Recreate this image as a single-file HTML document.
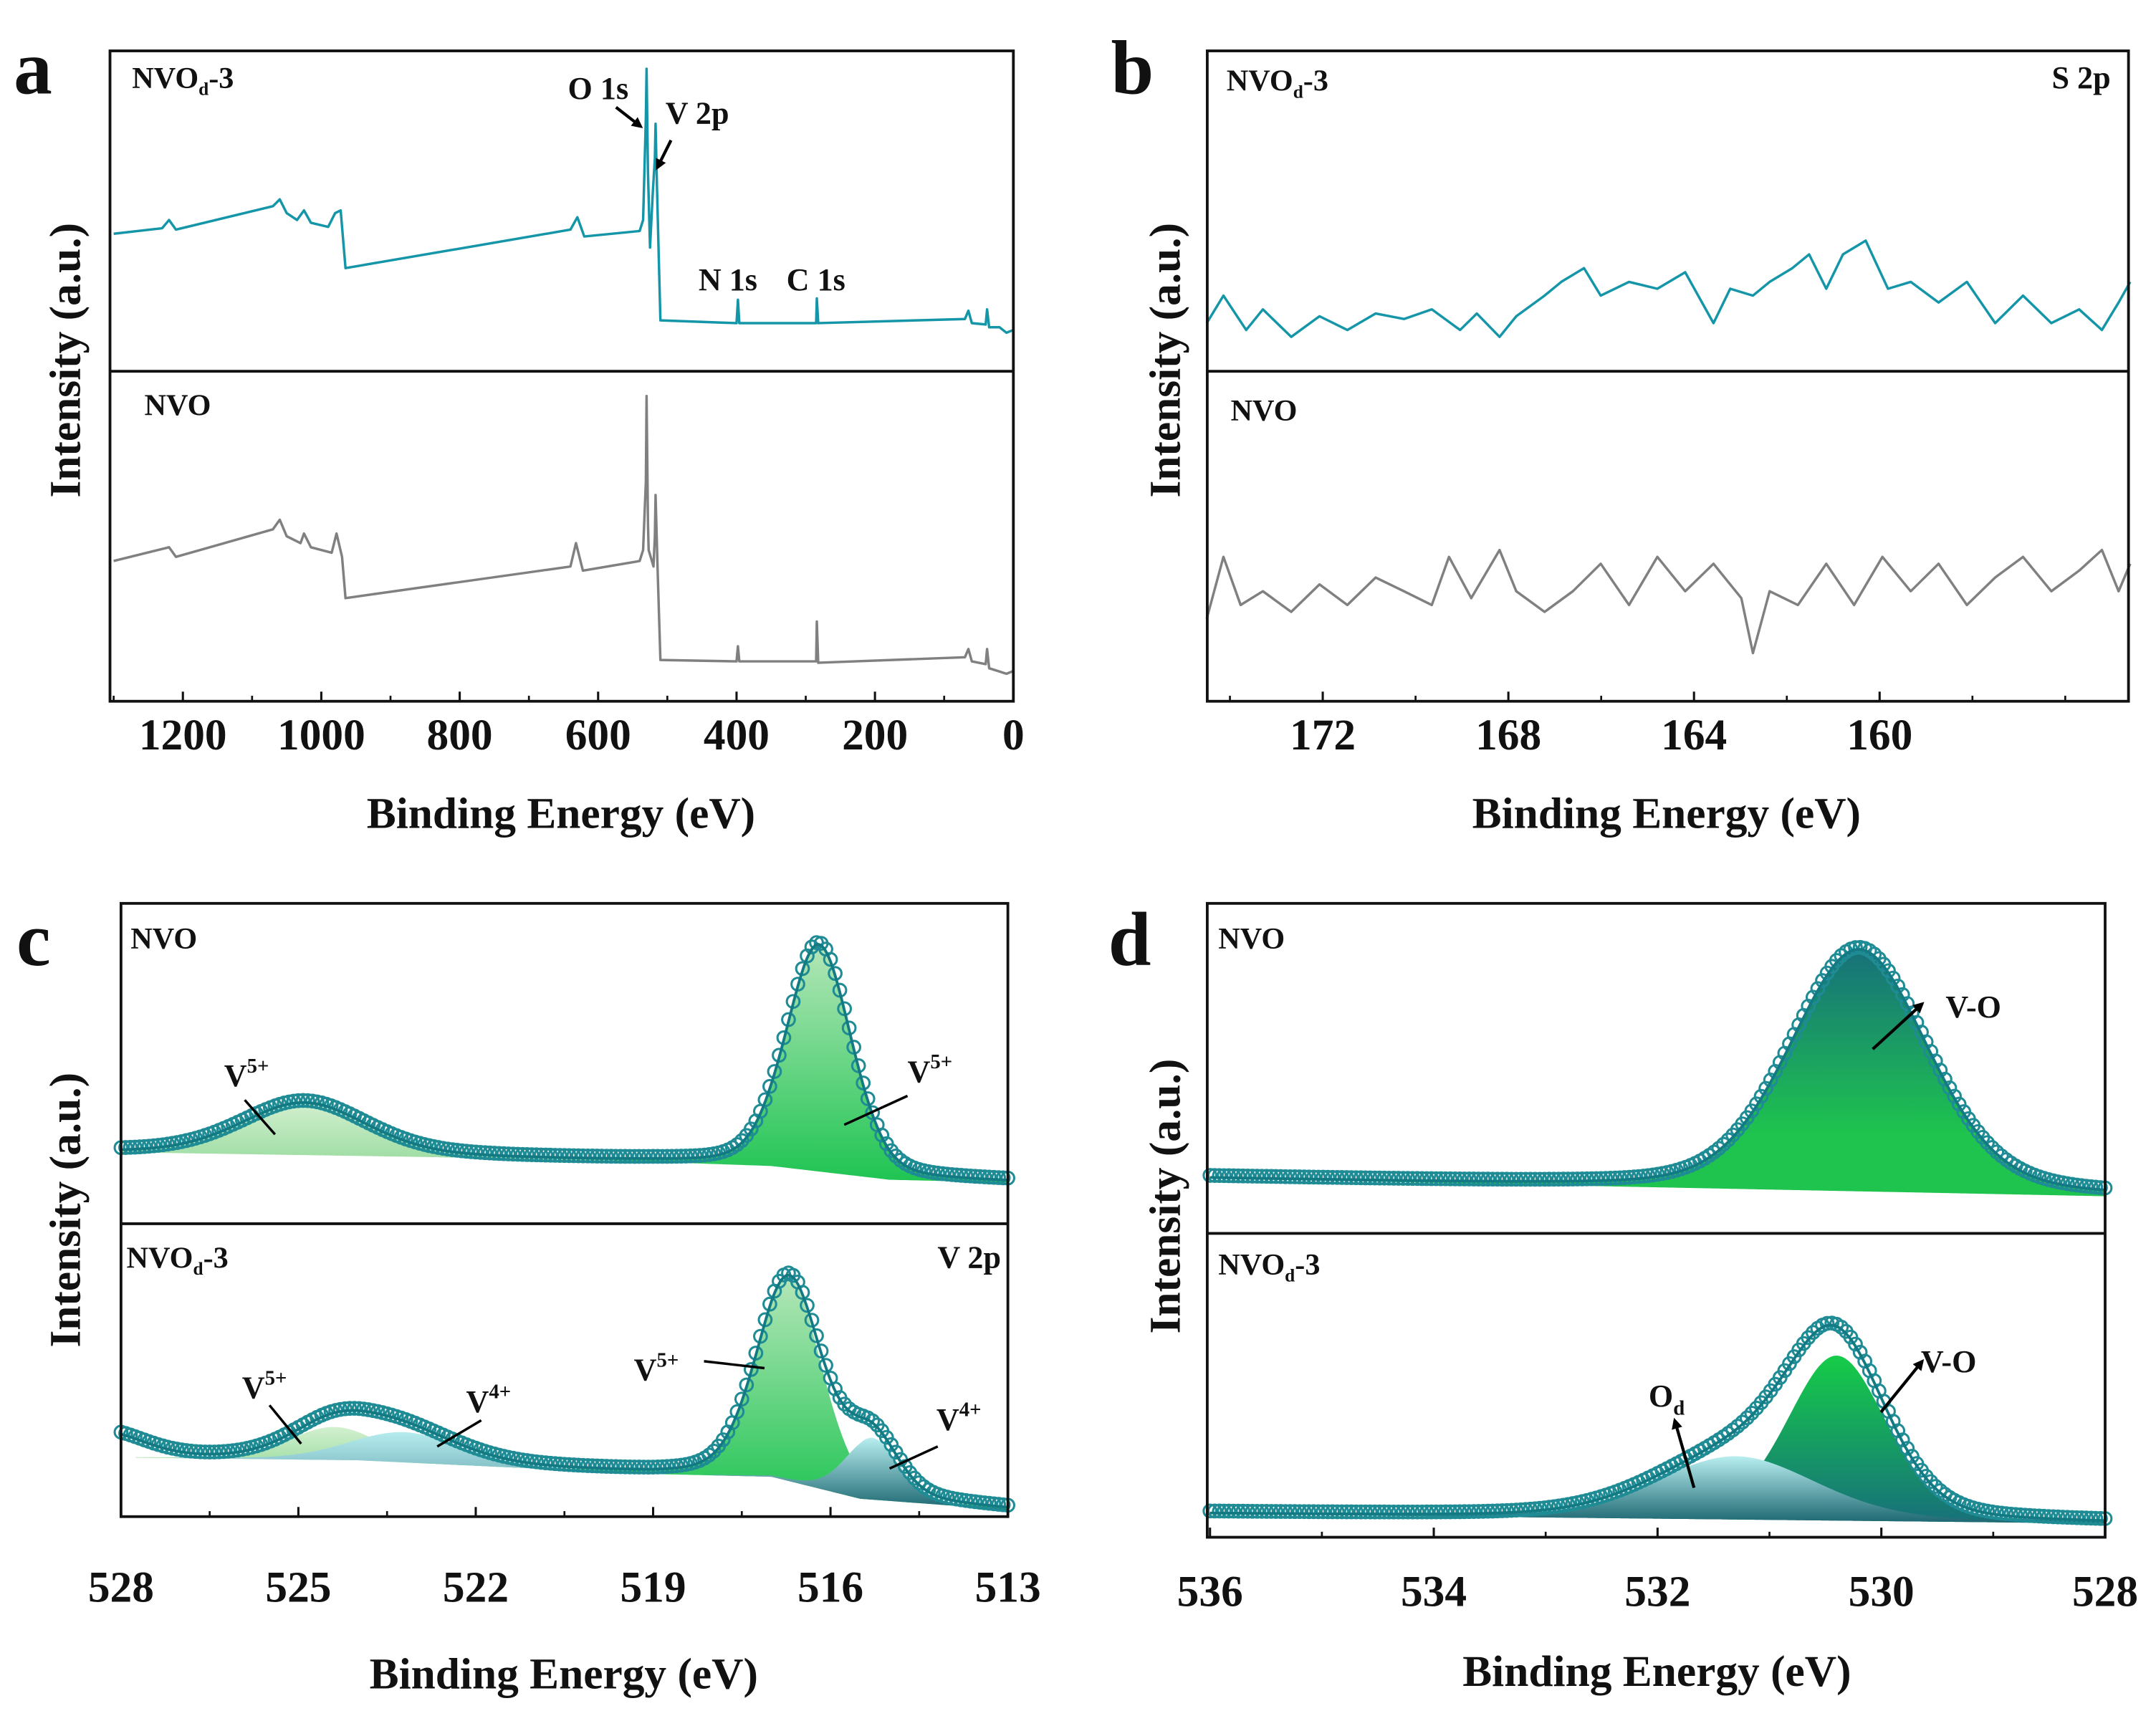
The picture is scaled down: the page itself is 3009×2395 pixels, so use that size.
<!DOCTYPE html>
<html><head><meta charset="utf-8"><style>
html,body{margin:0;padding:0;background:#fff;}
svg{display:block;}
text{font-family:"Liberation Serif",serif;font-weight:bold;fill:#111;}
</style></head><body>
<svg id="fig" width="3009" height="2395" viewBox="0 0 1568 1248" preserveAspectRatio="none" xmlns="http://www.w3.org/2000/svg">
<defs>
<linearGradient id="gGreen" x1="0" y1="0" x2="0" y2="1"><stop offset="0" stop-color="#b4e6b8"/><stop offset="1" stop-color="#1ec452"/></linearGradient>
<linearGradient id="gGreenL" x1="0" y1="0" x2="0" y2="1"><stop offset="0" stop-color="#d2f0cf"/><stop offset="1" stop-color="#9ddca2"/></linearGradient>
<linearGradient id="gCyan" x1="0" y1="0" x2="0" y2="1"><stop offset="0" stop-color="#b8eef0"/><stop offset="1" stop-color="#1b6670"/></linearGradient>
<linearGradient id="gCyanL" x1="0" y1="0" x2="0" y2="1"><stop offset="0" stop-color="#b6ecee"/><stop offset="1" stop-color="#80bcc4"/></linearGradient>
<linearGradient id="gTealGreen" x1="0" y1="0" x2="0" y2="1"><stop offset="0" stop-color="#17707a"/><stop offset="0.75" stop-color="#1ec44e"/><stop offset="1" stop-color="#1ec44e"/></linearGradient>
<linearGradient id="gGreenTeal" x1="0" y1="0" x2="0" y2="1"><stop offset="0" stop-color="#16cc48"/><stop offset="1" stop-color="#17707a"/></linearGradient>
<marker id="arr" markerWidth="8" markerHeight="8" refX="6" refY="4" orient="auto" markerUnits="userSpaceOnUse"><path d="M0,0 L8,4 L0,8 Z" fill="#000"/></marker>
</defs>
</svg>
<script>
// ---------------- DATA ----------------
// Panel a survey (binding energy eV, intensity counts)
const aTealE=[1300,1230,1220,1210,1070,1060,1050,1035,1025,1015,990,980,972,965,640,630,620,540,535,531,530,528,525,521,518,517,515,513,510,400,398,396,285,284,282,70,65,60,40,38,35,20,10,0];
const aTealI=[75,79,85,78,95,100,90,85,92,83,80,90,92,50,78,87,73,77,85,160,195,120,65,105,130,155,110,70,12,10,27,10,10,28,10,13,19,10,9,20,7,7,3,5];
const aGrayE=[1300,1220,1210,1070,1060,1050,1030,1025,1015,985,978,970,965,640,632,622,540,535,531,530,528,527,520,518,517,514,510,400,398,396,285,284,282,70,65,60,40,38,35,10,0];
const aGrayI=[92,102,95,115,122,110,105,112,102,98,112,95,65,88,105,85,92,100,150,212,120,100,88,110,140,85,20,19,30,19,19,48,18,22,28,19,17,28,14,10,12];
// Panel b S 2p
const bTealE=[174.5,174.14,173.65,173.29,172.68,172.07,171.47,170.86,170.25,169.65,169.04,168.68,168.19,167.83,167.22,166.86,166.37,166.01,165.40,164.79,164.19,163.58,163.22,162.73,162.37,161.88,161.52,161.15,160.79,160.30,159.82,159.33,158.73,158.12,157.51,156.91,156.30,155.70,155.21,154.85,154.6];
const bTealI=[65,85,60,75,55,70,60,72,68,75,60,72,55,70,85,95,105,85,95,90,102,65,90,85,95,105,115,90,115,125,90,95,80,95,65,85,65,75,60,80,95];
const bGrayE=[174.5,174.14,173.77,173.29,172.68,172.07,171.47,170.86,170.25,169.65,169.28,168.80,168.19,167.83,167.22,166.61,166.01,165.40,164.79,164.19,163.58,162.98,162.73,162.37,161.76,161.15,160.55,159.94,159.33,158.73,158.12,157.51,156.91,156.30,155.70,155.21,154.85,154.6];
const bGrayI=[50,95,60,70,55,75,60,80,70,60,95,65,100,70,55,70,90,60,95,70,90,65,25,70,60,90,60,95,70,90,60,80,95,70,85,100,70,90];
// Panel c V 2p fit components: [center eV, height, fwhm eV]
const cTopCenters=[516.2,524.9];
const cTopHeights=[165,38];
const cTopFwhm=[1.3,2.5];
const cTopBgE=[528,522,519,517,515,513];
const cTopBgI=[22,18,15,12,2,0];
const cBotCenters=[516.7,515.3,524.4,523.2,528.3];
const cBotHeights=[148,45,24,22,18];
const cBotFwhm=[1.3,1.05,1.8,2.2,1.6];
const cBotBgE=[528,524,521,519,517,515.5,513];
const cBotBgI=[38,36,30,26,24,8,0];
// Panel d O 1s fit components
const dTopCenters=[530.2];
const dTopHeights=[176];
const dTopFwhm=[1.45];
const dTopBgE=[536,528];
const dTopBgI=[13,0];
const dBotCenters=[530.4,531.3];
const dBotHeights=[120,46];
const dBotFwhm=[1.05,1.7];
const dBotBgE=[536,528];
const dBotBgI=[7,0];

// ---------------- HELPERS ----------------
const svg=document.getElementById('fig');
const NS='http://www.w3.org/2000/svg';
function mk(tag,attrs,parent){const e=document.createElementNS(NS,tag);for(const k in attrs)e.setAttribute(k,attrs[k]);(parent||svg).appendChild(e);return e;}
function lin(d0,d1,r0,r1){return v=>r0+(v-d0)*(r1-r0)/(d1-d0);}
function interp(xs,ys,x){for(let i=0;i<xs.length-1;i++){const a=xs[i],b=xs[i+1];if((x<=a&&x>=b)||(x>=a&&x<=b)){const t=(x-a)/(b-a);return ys[i]+t*(ys[i+1]-ys[i]);}}return ys[ys.length-1];}
function pv(E,c,h,w){const s=w/2.3548;const g=Math.exp(-(E-c)*(E-c)/(2*s*s));const l=1/(1+4*(E-c)*(E-c)/(w*w));return h*(0.75*g+0.25*l);}
function txt(x,y,s,size,parent,anchor){const t=mk('text',{x:x,y:y,'font-size':size,'text-anchor':anchor||'start'},parent);t.textContent=s;return t;}
function sampleLabel(x,y,parent,size){const t=mk('text',{x:x,y:y,'font-size':size||22},parent);t.appendChild(document.createTextNode('NVO'));const s=document.createElementNS(NS,'tspan');s.setAttribute('font-size',(size||22)*0.6);s.setAttribute('dy',5);s.textContent='d';t.appendChild(s);const s2=document.createElementNS(NS,'tspan');s2.setAttribute('dy',-5);s2.textContent='-3';t.appendChild(s2);return t;}
function vion(x,y,ox,parent){const t=mk('text',{x:x,y:y,'font-size':23},parent);t.appendChild(document.createTextNode('V'));const s=document.createElementNS(NS,'tspan');s.setAttribute('font-size',15);s.setAttribute('dy',-10);s.textContent=ox;t.appendChild(s);return t;}
function frame(g,x0,x1,y0,y1,ymid){mk('rect',{x:x0,y:y0,width:x1-x0,height:y1-y0,fill:'none',stroke:'#111','stroke-width':2},g);mk('line',{x1:x0,x2:x1,y1:ymid,y2:ymid,stroke:'#111','stroke-width':2},g);}
function xAxis(g,xs,majors,minors,y1,labelY){majors.forEach(v=>{mk('line',{x1:xs(v),x2:xs(v),y1:y1,y2:y1-7,stroke:'#111','stroke-width':1.6},g);const t=txt(xs(v),labelY,String(v),32,g,'middle');});minors.forEach(v=>mk('line',{x1:xs(v),x2:xs(v),y1:y1,y2:y1-4,stroke:'#111','stroke-width':1.4},g));}
function titles(g,cx,ty,ylx,yly,letter,lx,ly){const t=txt(cx,ty,'Binding Energy (eV)',32,g,'middle');const y=mk('text',{x:0,y:0,'font-size':32,'text-anchor':'middle',transform:`translate(${ylx},${yly}) rotate(-90)`},g);y.textContent='Intensity (a.u.)';const l=txt(lx,ly,letter,56,g);}
function poly(g,pts,color,w){return mk('polyline',{points:pts.map(p=>p.join(',')).join(' '),fill:'none',stroke:color,'stroke-width':w||1.6,'stroke-linejoin':'round'},g);}
function arrow(g,x1,y1,x2,y2){mk('line',{x1,y1,x2,y2,stroke:'#000','stroke-width':2.2,'marker-end':'url(#arr)'},g);}
function tick(g,x1,y1,x2,y2){mk('line',{x1,y1,x2,y2,stroke:'#000','stroke-width':1.8},g);}

function fitPanel(g,xs,yb,scale,E0,E1,centers,heights,fwhm,bgE,bgI,fills,name){
  const bg=E=>interp(bgE,bgI,E);
  const Y=v=>yb-v*scale;
  const N=300;const Es=[];for(let i=0;i<=N;i++)Es.push(E0+(E1-E0)*i/N);
  centers.forEach((c,k)=>{if(!fills[k])return;
    const Es2=Es.filter(E=>pv(E,c,heights[k],fwhm[k])>0.4);if(Es2.length<2)return;
    let d='M'+Es2.map(E=>xs(E)+','+Y(bg(E)+pv(E,c,heights[k],fwhm[k]))).join(' L');
    for(let i=Es2.length-1;i>=0;i--)d+=' L'+xs(Es2[i])+','+Y(bg(Es2[i]));d+=' Z';
    const p=mk('path',{d:d,fill:fills[k],stroke:'none'},g);});
  const env=Es.map(E=>{let v=bg(E);centers.forEach((c,k)=>v+=pv(E,c,heights[k],fwhm[k]));return [xs(E),Y(v)];});
  const M=190;for(let i=0;i<=M;i++){const E=E0+(E1-E0)*i/M;let v=bg(E);centers.forEach((c,k)=>v+=pv(E,c,heights[k],fwhm[k]));const cc=mk('circle',{cx:xs(E),cy:Y(v)-1.5,r:4.6,fill:'none',stroke:'#1f8c95','stroke-width':1.6},g);}
  const l=poly(g,env,'#137a84',2);
}

// ---------------- PANEL A ----------------
const ga=mk('g',{});
const xa=lin(1200,0,133,737);
const yaT=v=>245-v, yaG=v=>500-v;
const la=poly(ga,aTealE.map((e,i)=>[xa(e),yaT(aTealI[i])]),'#1496a8',1.8);
const lg=poly(ga,aGrayE.map((e,i)=>[xa(e),yaG(aGrayI[i])]),'#808080',1.8);
frame(ga,80,737,37,510,270);
xAxis(ga,xa,[1200,1000,800,600,400,200,0],[1300,1100,900,700,500,300,100],510,545);
titles(ga,408,602,58,262,'a',10,68);
sampleLabel(96,64,ga,22);
txt(105,302,'NVO',22,ga);
txt(413,72,'O 1s',23,ga);
txt(484,90,'V 2p',23,ga);
txt(508,211,'N 1s',23,ga);
txt(572,211,'C 1s',23,ga);
arrow(ga,448,78,466,92);arrow(ga,488,102,478,122);

// ---------------- PANEL B ----------------
const gb=mk('g',{});
const xb=lin(172,160,962,1367);
const ybT=v=>300-v, ybG=v=>500-v;
const lbt=poly(gb,bTealE.map((e,i)=>[xb(e),ybT(bTealI[i])]),'#1496a8',1.8);
const lbg=poly(gb,bGrayE.map((e,i)=>[xb(e),ybG(bGrayI[i])]),'#808080',1.8);
frame(gb,878,1548,37,510,270);
xAxis(gb,xb,[172,168,164,160],[174,170,166,162,158,156],510,545);
titles(gb,1212,602,858,262,'b',808,68);
sampleLabel(892,66,gb,22);
txt(895,306,'NVO',22,gb);
txt(1535,64,'S 2p',23,gb,'end');

// ---------------- PANEL C ----------------
const gc=mk('g',{});
const xc=lin(528,513,88,733);
fitPanel(gc,xc,860,1.0,528,513,cTopCenters,cTopHeights,cTopFwhm,cTopBgE,cTopBgI,['url(#gGreen)','url(#gGreenL)'],'nvo-v2p');
fitPanel(gc,xc,1098,1.0,528,513,cBotCenters,cBotHeights,cBotFwhm,cBotBgE,cBotBgI,['url(#gGreen)','url(#gCyan)','url(#gGreenL)','url(#gCyanL)',null],'nvod3-v2p');
frame(gc,88,733,657,1103,890);
xAxis(gc,xc,[528,525,522,519,516,513],[526.5,523.5,520.5,517.5,514.5],1103,1165);
titles(gc,410,1228,58,880,'c',12,702);
txt(95,690,'NVO',22,gc);
sampleLabel(92,922,gc,22);
txt(728,922,'V 2p',23,gc,'end');
vion(163,790,'5+',gc);tick(gc,178,800,200,825);
vion(660,787,'5+',gc);tick(gc,660,797,614,818);
vion(176,1017,'5+',gc);tick(gc,196,1022,219,1050);
vion(339,1027,'4+',gc);tick(gc,350,1033,318,1052);
vion(461,1004,'5+',gc);tick(gc,512,990,556,995);
vion(681,1040,'4+',gc);tick(gc,682,1052,647,1068);

// ---------------- PANEL D ----------------
const gd=mk('g',{});
const xd=lin(536,528,880,1531);
fitPanel(gd,xd,870,1.0,536,528,dTopCenters,dTopHeights,dTopFwhm,dTopBgE,dTopBgI,['url(#gTealGreen)'],'nvo-o1s');
fitPanel(gd,xd,1108,1.0,536,528,dBotCenters,dBotHeights,dBotFwhm,dBotBgE,dBotBgI,['url(#gGreenTeal)','url(#gCyan)'],'nvod3-o1s');
frame(gd,878,1531,657,1118,897);
xAxis(gd,xd,[536,534,532,530,528],[535,533,531,529],1118,1168);
titles(gd,1205,1226,858,870,'d',806,702);
txt(886,690,'NVO',22,gd);
sampleLabel(886,927,gd,22);
txt(1415,740,'V-O',23,gd);
arrow(gd,1362,763,1398,730);
txt(1397,998,'V-O',23,gd);
arrow(gd,1368,1027,1398,990);
const od=mk('text',{x:1199,y:1023,'font-size':23},gd);od.textContent='O';const ods=document.createElementNS(NS,'tspan');ods.setAttribute('font-size',15);ods.setAttribute('dy',6);ods.textContent='d';od.appendChild(ods);
arrow(gd,1232,1082,1218,1033);
</script>
</body></html>
